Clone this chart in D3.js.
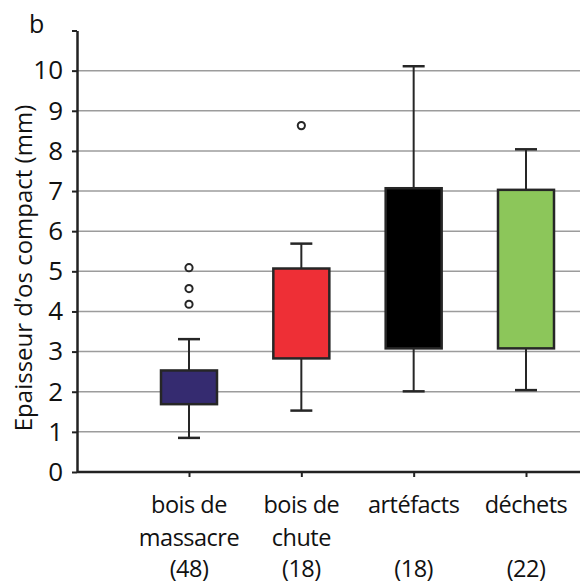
<!DOCTYPE html>
<html>
<head>
<meta charset="utf-8">
<script src="https://cdn.jsdelivr.net/npm/d3@7"></script>
<style>
  html, body { margin: 0; padding: 0; background: #fff; }
  svg { display: block; }
  text { font-family: "Open Sans", sans-serif; fill: #111; }
</style>
</head>
<body>
<svg id="chart" width="580" height="584"></svg>
<script>
// ---- data ----
const categories = ["bois de massacre", "bois de chute", "artéfacts", "déchets"];
const labelLines = [["bois de", "massacre", "(48)"], ["bois de", "chute", "(18)"], ["artéfacts", "", "(18)"], ["déchets", "", "(22)"]];
const whiskerLow  = [0.85, 1.53, 2.01, 2.04];
const q1          = [1.69, 2.83, 3.08, 3.08];
const q3          = [2.53, 5.07, 7.07, 7.03];
const whiskerHigh = [3.31, 5.69, 10.11, 8.04];
const outliers    = [[4.18, 4.57, 5.09], [8.63], [], []];
const colors      = ["#352b70", "#ee2f36", "#000000", "#8cc65a"];
const yTicks      = [0, 1, 2, 3, 4, 5, 6, 7, 8, 9, 10, 11];
const yTickLabels = ["0", "1", "2", "3", "4", "5", "6", "7", "8", "9", "10", ""];
const yTitle = "Epaisseur d\u2019os compact (mm)";
const panelLabel = "b";

// ---- layout ----
const svg = d3.select("#chart");
const axisX = 77, axisY = 472, rightX = 580;
const y = d3.scaleLinear().domain([0, 11]).range([472, 30.5]);
const x = d3.scalePoint().domain(categories).range([189, 526]);
const boxW = 56, capW = 22;

// gridlines
svg.append("g").selectAll("line")
  .data(yTicks.filter(t => t > 0 && t <= 10))
  .join("line")
  .attr("x1", axisX).attr("x2", rightX)
  .attr("y1", d => y(d)).attr("y2", d => y(d))
  .attr("stroke", "#9c9c9c").attr("stroke-width", 1.5);

// y axis
const yAxis = d3.axisLeft(y).tickValues(yTicks)
  .tickFormat((d, i) => yTickLabels[i]).tickSize(5).tickSizeOuter(0).tickPadding(9);
const gy = svg.append("g").attr("transform", `translate(${axisX},0)`).call(yAxis);
gy.select(".domain").attr("stroke", "#222").attr("stroke-width", 2.5);
gy.selectAll(".tick line").attr("stroke", "#222").attr("stroke-width", 2);
gy.selectAll(".tick text").attr("font-size", 26).attr("font-family", "Open Sans").attr("fill", "#111");

// x axis
const xAxis = d3.axisBottom(x).tickSize(5).tickSizeOuter(0).tickFormat("");
const gx = svg.append("g").attr("transform", `translate(0,${axisY})`).call(xAxis);
gx.select(".domain").attr("d", `M${axisX},0H${rightX}`).attr("stroke", "#222").attr("stroke-width", 2.5);
gx.selectAll(".tick line").attr("stroke", "#222").attr("stroke-width", 2);

// category labels
const lineY = [513, 546, 577];
categories.forEach((c, i) => {
  labelLines[i].forEach((t, j) => {
    if (!t) return;
    svg.append("text").attr("x", x(c)).attr("y", lineY[j])
      .attr("text-anchor", "middle").attr("font-size", 23.5)
      .attr("letter-spacing", -0.5).text(t);
  });
});

// boxes
const g = svg.append("g");
categories.forEach((c, i) => {
  const cx = x(c);
  const st = "#262626";
  // whiskers
  g.append("line").attr("x1", cx).attr("x2", cx).attr("y1", y(q3[i])).attr("y2", y(whiskerHigh[i]))
    .attr("stroke", st).attr("stroke-width", 2);
  g.append("line").attr("x1", cx).attr("x2", cx).attr("y1", y(q1[i])).attr("y2", y(whiskerLow[i]))
    .attr("stroke", st).attr("stroke-width", 2);
  g.append("line").attr("x1", cx - capW / 2).attr("x2", cx + capW / 2)
    .attr("y1", y(whiskerHigh[i])).attr("y2", y(whiskerHigh[i])).attr("stroke", st).attr("stroke-width", 2.5);
  g.append("line").attr("x1", cx - capW / 2).attr("x2", cx + capW / 2)
    .attr("y1", y(whiskerLow[i])).attr("y2", y(whiskerLow[i])).attr("stroke", st).attr("stroke-width", 2.5);
  // box
  g.append("rect").attr("x", cx - boxW / 2).attr("width", boxW)
    .attr("y", y(q3[i])).attr("height", y(q1[i]) - y(q3[i]))
    .attr("fill", colors[i]).attr("stroke", st).attr("stroke-width", 2.5);
  // outliers
  g.selectAll(null).data(outliers[i]).join("circle")
    .attr("cx", cx).attr("cy", d => y(d)).attr("r", 3.6)
    .attr("fill", "#fff").attr("stroke", st).attr("stroke-width", 2);
});

// y title
svg.append("text").attr("transform", "translate(32,268) rotate(-90)")
  .attr("text-anchor", "middle").attr("font-size", 24).text(yTitle);

// panel label
svg.append("text").attr("x", 29).attr("y", 33).attr("font-size", 25).text(panelLabel);
</script>
</body>
</html>
